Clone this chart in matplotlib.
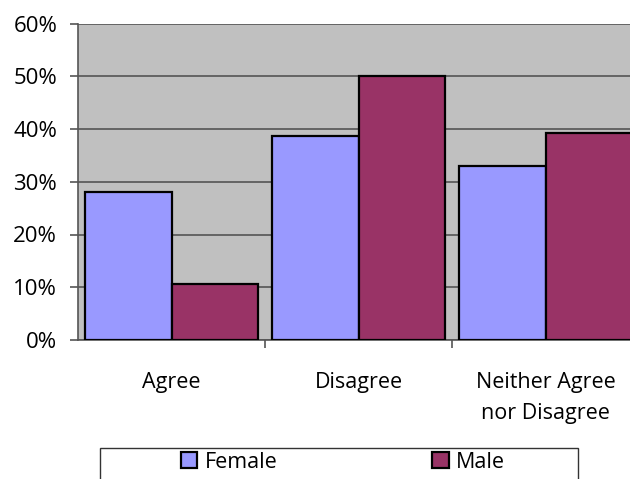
import numpy as np
import matplotlib
matplotlib.use('Agg')
import matplotlib.pyplot as plt
from matplotlib.patches import Rectangle
from matplotlib.ticker import FuncFormatter, FixedLocator

plt.rcParams['font.family'] = ['Open Sans', 'DejaVu Sans']

categories = ['Agree', 'Disagree', 'Neither Agree\nnor Disagree']
female = [28.1, 38.7, 33.0]
male = [10.6, 50.0, 39.2]
series_names = ['Female', 'Male']
colors = ['#9999FF', '#993366']

W, H = 630, 479
fig = plt.figure(figsize=(W / 100, H / 100), dpi=100)
# plot area runs a little past the right edge of the image
ax = fig.add_axes([78 / W, 1 - 340 / H, (639 - 78) / W, (340 - 23.5) / H])
ax.set_facecolor('#C0C0C0')

x = np.arange(len(categories))
bw = 0.46
ax.bar(x - bw / 2, female, bw, color=colors[0], edgecolor='black', lw=1.6,
       label=series_names[0], zorder=3)
ax.bar(x + bw / 2, male, bw, color=colors[1], edgecolor='black', lw=1.6,
       label=series_names[1], zorder=3)

ax.set_xlim(-0.5, len(categories) - 0.5)
ax.set_ylim(0, 60)
ax.set_yticks(np.arange(0, 61, 10))
ax.yaxis.set_major_formatter(FuncFormatter(lambda v, p: f'{v:.0f}%'))
ax.yaxis.grid(True, color='#555555', lw=1.2, zorder=1)
ax.tick_params(axis='y', length=6, width=1.2, color='#555555', pad=9,
               labelsize=16)

ax.set_xticks(x)
ax.set_xticklabels(categories, fontsize=15.5, linespacing=1.6, va='top')
ax.xaxis.set_minor_locator(FixedLocator(x[:-1] + 0.5))
ax.tick_params(axis='x', which='major', length=0, pad=23)
ax.tick_params(axis='x', which='minor', length=6, width=1.2, color='#555555')

for s in ['top', 'right']:
    ax.spines[s].set_visible(False)
for s in ['left', 'bottom']:
    ax.spines[s].set_color('#555555')
    ax.spines[s].set_linewidth(1.2)

# legend frame, cut off at the bottom
fig.patches.append(Rectangle((100 / W, -0.05), 478 / W, 0.05 + 1 - 448.5 / H,
                             transform=fig.transFigure, fill=False,
                             edgecolor='#333333', lw=1.0))
fig.legend(loc='center left', bbox_to_anchor=(181 / W, 1 - 462 / H), ncol=2,
           frameon=False, fontsize=15.5, handlelength=0.75, handleheight=0.75,
           handletextpad=0.35, columnspacing=7.2, borderpad=0, borderaxespad=0)

fig.savefig('out.png', dpi=100)
